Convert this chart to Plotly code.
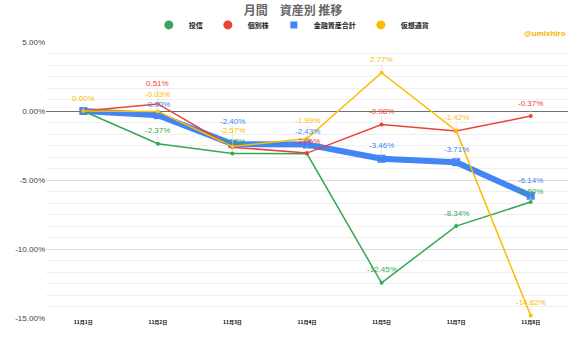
import plotly.graph_objects as go

# Monthly change by asset class (%), November
dates = ["11月1日", "11月2日", "11月3日", "11月4日", "11月5日", "11月7日", "11月8日"]

toushin = [0.00, -2.37, -3.08, -3.10, -12.45, -8.34, -6.60]     # 投信
kobetsu = [0.00, 0.51, -2.62, -3.05, -0.98, -1.45, -0.37]        # 個別株
goukei = [0.00, -0.30, -2.40, -2.43, -3.46, -3.71, -6.14]        # 金融資産合計
kasou = [0.00, -0.03, -2.57, -1.99, 2.77, -1.42, -14.82]         # 仮想通貨

y_ticks = [5, 0, -5, -10, -15]

# which points carry a value label
toushin_lbl = [False, True, True, False, True, True, True]
kobetsu_lbl = [False, True, False, True, True, False, True]
goukei_lbl = [False, True, True, True, True, True, True]
kasou_lbl = [True, True, True, True, True, True, True]

# label offsets (px above the point) where labels crowd together
DEFAULT_OFFSET = -13
label_offset = {
    ("個別株", 1): -20, ("仮想通貨", 1): -17, ("金融資産合計", 1): -11,
    ("金融資産合計", 2): -23, ("仮想通貨", 2): -15.5, ("投信", 2): -12.5,
    ("仮想通貨", 3): -17.5, ("金融資産合計", 3): -13.5, ("個別株", 3): -12,
    ("金融資産合計", 6): -15, ("投信", 6): -11,
}

GREEN = "#34A853"
RED = "#EA4335"
BLUE = "#4285F4"
YELLOW = "#FBBC04"
FONT = "Noto Sans CJK JP"
NUMFONT = "Liberation Sans"

fig = go.Figure()

# drawing order: thick total line underneath, thin series on top
series = [
    ("金融資産合計", goukei, goukei_lbl, BLUE, 6, "square", 8, 3),
    ("投信", toushin, toushin_lbl, GREEN, 1.5, "circle", 4, 1),
    ("個別株", kobetsu, kobetsu_lbl, RED, 1.5, "circle", 4, 2),
    ("仮想通貨", kasou, kasou_lbl, YELLOW, 1.5, "circle", 4, 4),
]

for name, vals, lbl, color, lw, sym, ms, rank in series:
    fig.add_trace(go.Scatter(
        x=dates, y=vals, mode="lines+markers", name=name,
        line=dict(color=color, width=lw),
        marker=dict(color=color, size=ms, symbol=sym),
        showlegend=False, hoverinfo="skip",
    ))
    # legend entry shown as a marker only
    fig.add_trace(go.Scatter(
        x=[None], y=[None], mode="markers", name=name,
        marker=dict(color=color, size=9 if sym == "circle" else 7, symbol=sym),
        legendrank=rank, showlegend=True,
    ))
    for i, (d, v, show) in enumerate(zip(dates, vals, lbl)):
        if not show:
            continue
        fig.add_annotation(
            x=d, y=v, text=f"{v:.2f}%", showarrow=True,
            ax=0, ay=label_offset.get((name, i), DEFAULT_OFFSET),
            arrowhead=0, arrowwidth=0.6, arrowcolor="#d8d8d8",
            standoff=2, startstandoff=0, borderpad=0,
            font=dict(family=NUMFONT, size=8, color=color),
        )

fig.add_annotation(
    x=1, xref="paper", y=1.03, yref="paper", yanchor="middle", xanchor="right",
    text="<b>@umixhiro</b>", showarrow=False,
    font=dict(family=NUMFONT, size=8, color="#F4B400"),
)

fig.update_layout(
    width=586, height=348,
    margin=dict(l=46, r=18, t=41, b=30),
    paper_bgcolor="white", plot_bgcolor="white",
    title=dict(text="<b>月間　資産別 推移</b>", x=0.5, xref="container",
               y=0.97, yanchor="middle", yref="container",
               font=dict(family=FONT, size=12, color="#666666")),
    legend=dict(orientation="h", x=0.47, xref="paper", xanchor="center",
                y=1.058, yref="paper", yanchor="middle",
                font=dict(family=FONT, size=7, color="#222222", weight="bold"),
                itemwidth=30, tracegroupgap=0, traceorder="normal"),
    font=dict(family=FONT),
)

fig.update_xaxes(
    type="category", range=[-0.5, 6.5], showgrid=False, ticks="",
    tickfont=dict(family=FONT, size=5, color="#000000", weight="bold"),
    showline=False, zeroline=False,
)
fig.update_yaxes(
    range=[-15, 5], tickvals=y_ticks,
    ticktext=[f"{t:.2f}%" for t in y_ticks],
    tickfont=dict(family=NUMFONT, size=8, color="#444444"),
    gridcolor="#dcdcdc", gridwidth=1,
    minor=dict(dtick=5 / 6, tick0=0, showgrid=True, gridcolor="#efefef", gridwidth=1),
    zeroline=True, zerolinecolor="#707070", zerolinewidth=1,
    showline=False,
)

fig.write_html("out.html")
